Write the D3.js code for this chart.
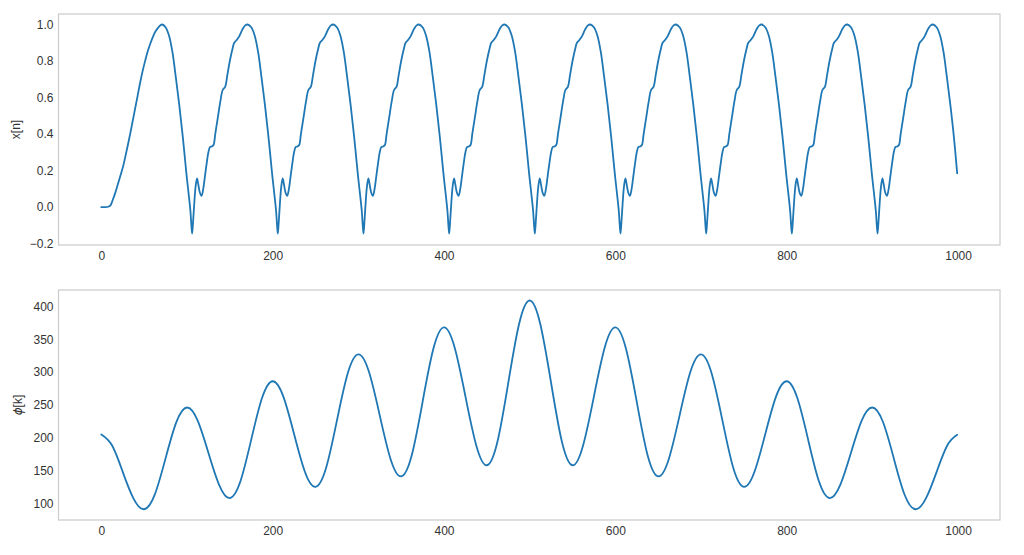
<!DOCTYPE html>
<html><head><meta charset="utf-8">
<script src="https://cdn.jsdelivr.net/npm/d3@7"></script>
<style>
body{margin:0;background:#fff}
svg{display:block}
text{font-family:"Liberation Sans",Arial,sans-serif}
</style>
</head><body>
<svg id="c" width="1024" height="555"></svg>
<script>
// ---------- data: top panel x[n] ----------
const xCycleStarts = [0, 100, 200, 300, 400, 500, 600, 700, 800, 900];
const xFirstOffsets = [0,4,8,10.5,13,16.3,19,22.2,25,28,31,33.9,36.8,39.7,42.6,45.5,48.5,51.4,54.3,57.2,60,63,66,68.5,71,75,79,83,87,91,95,99];
const xCycleOffsets = [0,2,4,5,6,7,8.5,10,11.7,13,15,17,19,21,23,25,27,29,31,33,36,39,41.6,44.7,47,50,53.3,55.2,58,61,65,68,70.8,75,79,83,87,91,95,99];
const xCycleValues = [
  [0,0,0.002,0.008,0.035,0.078,0.12,0.17,0.215,0.275,0.34,0.405,0.475,0.545,0.615,0.685,0.75,0.805,0.855,0.895,0.93,0.96,0.98,0.994,1.0,0.985,0.94,0.85,0.71,0.56,0.39,0.2],
  [0.155,0.07,-0.02,-0.09,-0.145,-0.09,0.02,0.11,0.157,0.13,0.08,0.062,0.1,0.17,0.24,0.3,0.33,0.332,0.34,0.4,0.49,0.58,0.64,0.66,0.72,0.8,0.87,0.9,0.915,0.935,0.975,0.995,1.0,0.985,0.94,0.85,0.71,0.56,0.39,0.2],
  [0.155,0.07,-0.02,-0.09,-0.145,-0.09,0.02,0.11,0.157,0.13,0.08,0.062,0.1,0.17,0.24,0.3,0.33,0.332,0.34,0.4,0.49,0.58,0.64,0.66,0.72,0.8,0.87,0.9,0.915,0.935,0.975,0.995,1.0,0.985,0.94,0.85,0.71,0.56,0.39,0.2],
  [0.155,0.07,-0.02,-0.09,-0.145,-0.09,0.02,0.11,0.157,0.13,0.08,0.062,0.1,0.17,0.24,0.3,0.33,0.332,0.34,0.4,0.49,0.58,0.64,0.66,0.72,0.8,0.87,0.9,0.915,0.935,0.975,0.995,1.0,0.985,0.94,0.85,0.71,0.56,0.39,0.2],
  [0.155,0.07,-0.02,-0.09,-0.145,-0.09,0.02,0.11,0.157,0.13,0.08,0.062,0.1,0.17,0.24,0.3,0.33,0.332,0.34,0.4,0.49,0.58,0.64,0.66,0.72,0.8,0.87,0.9,0.915,0.935,0.975,0.995,1.0,0.985,0.94,0.85,0.71,0.56,0.39,0.2],
  [0.155,0.07,-0.02,-0.09,-0.145,-0.09,0.02,0.11,0.157,0.13,0.08,0.062,0.1,0.17,0.24,0.3,0.33,0.332,0.34,0.4,0.49,0.58,0.64,0.66,0.72,0.8,0.87,0.9,0.915,0.935,0.975,0.995,1.0,0.985,0.94,0.85,0.71,0.56,0.39,0.2],
  [0.155,0.07,-0.02,-0.09,-0.145,-0.09,0.02,0.11,0.157,0.13,0.08,0.062,0.1,0.17,0.24,0.3,0.33,0.332,0.34,0.4,0.49,0.58,0.64,0.66,0.72,0.8,0.87,0.9,0.915,0.935,0.975,0.995,1.0,0.985,0.94,0.85,0.71,0.56,0.39,0.2],
  [0.155,0.07,-0.02,-0.09,-0.145,-0.09,0.02,0.11,0.157,0.13,0.08,0.062,0.1,0.17,0.24,0.3,0.33,0.332,0.34,0.4,0.49,0.58,0.64,0.66,0.72,0.8,0.87,0.9,0.915,0.935,0.975,0.995,1.0,0.985,0.94,0.85,0.71,0.56,0.39,0.2],
  [0.155,0.07,-0.02,-0.09,-0.145,-0.09,0.02,0.11,0.157,0.13,0.08,0.062,0.1,0.17,0.24,0.3,0.33,0.332,0.34,0.4,0.49,0.58,0.64,0.66,0.72,0.8,0.87,0.9,0.915,0.935,0.975,0.995,1.0,0.985,0.94,0.85,0.71,0.56,0.39,0.2],
  [0.155,0.07,-0.02,-0.09,-0.145,-0.09,0.02,0.11,0.157,0.13,0.08,0.062,0.1,0.17,0.24,0.3,0.33,0.332,0.34,0.4,0.49,0.58,0.64,0.66,0.72,0.8,0.87,0.9,0.915,0.935,0.975,0.995,1.0,0.985,0.94,0.85,0.71,0.56,0.39,0.185]
];
const xTicksY = [-0.2, 0.0, 0.2, 0.4, 0.6, 0.8, 1.0];
const xLimY = [-0.2075, 1.0575];

// ---------- data: bottom panel phi[k] ----------
const phiK = [0,12.5,25,37.5,50,62.5,75,87.5,100,112.5,125,137.5,150,162.5,175,187.5,200,212.5,225,237.5,250,262.5,275,287.5,300,312.5,325,337.5,350,362.5,375,387.5,400,412.5,425,437.5,450,462.5,475,487.5,500,512.5,525,537.5,550,562.5,575,587.5,600,612.5,625,637.5,650,662.5,675,687.5,700,712.5,725,737.5,750,762.5,775,787.5,800,812.5,825,837.5,850,862.5,875,887.5,900,912.5,925,937.5,950,962.5,975,987.5,999];
const phiV = [205,188.4,148,107.6,91,113.6,168.5,223.4,246,225.9,177,128.1,108,134,197,260,286,262.5,205.5,148.5,125,154.5,226,297.5,327,300,234,168,141,174,254.5,335,368,337,263,189,158,194.5,283.5,372.5,409,372.5,283.5,194.5,158,189,263,337,368,335,254.5,174,141,168,234,300,327,297.5,226,154.5,125,148.5,205.5,262.5,286,260,197,134,108,128,177,226,246,223.5,168.5,113.5,91,107.5,148,188.5,204.5];
const phiTicksY = [100, 150, 200, 250, 300, 350, 400];
const phiLimY = [74.6, 425];

// ---------- shared x ----------
const xTicks = [0, 200, 400, 600, 800, 1000];
const xLim = [-49.95, 1048.95];

// ---------- build ----------
const topData = [];
xCycleStarts.forEach((s, i) => {
  const offs = i === 0 ? xFirstOffsets : xCycleOffsets;
  offs.forEach((o, j) => topData.push([s + o, xCycleValues[i][j]]));
});
const botData = phiK.map((k, i) => [k, phiV[i]]);

const svg = d3.select("#c");
const color = "#1f77b4";
const textColor = "#333";

function panel(top, bottom, data, yLim, yTicks, yFmt, labelFn, labelX, curve) {
  const left = 58.5, right = 1000;
  const x = d3.scaleLinear().domain(xLim).range([left, right]);
  const y = d3.scaleLinear().domain(yLim).range([bottom, top]);
  const g = svg.append("g");

  g.append("rect").attr("x", left).attr("y", top)
    .attr("width", right - left).attr("height", bottom - top)
    .attr("fill", "#fff").attr("stroke", "#cccccc").attr("stroke-width", 1.25);

  const ax = g.append("g").attr("transform", `translate(0,${bottom})`)
    .call(d3.axisBottom(x).tickValues(xTicks).tickSize(0).tickPadding(6).tickFormat(d3.format("d")));
  const ay = g.append("g").attr("transform", `translate(${left},0)`)
    .call(d3.axisLeft(y).tickValues(yTicks).tickSize(0).tickPadding(5).tickFormat(yFmt));
  [ax, ay].forEach(a => {
    a.select(".domain").remove();
    a.selectAll("text").attr("font-size", 12).attr("fill", textColor)
      .attr("font-family", '"Liberation Sans", Arial, sans-serif');
  });

  g.append("path").datum(data)
    .attr("fill", "none").attr("stroke", color).attr("stroke-width", 1.8)
    .attr("stroke-linejoin", "round").attr("stroke-linecap", "round")
    .attr("d", d3.line().x(d => x(d[0])).y(d => y(d[1])).curve(curve));

  const lab = g.append("text")
    .attr("transform", `translate(${labelX},${(top + bottom) / 2}) rotate(-90)`)
    .attr("text-anchor", "middle").attr("dominant-baseline", "central")
    .attr("font-size", 12).attr("fill", textColor);
  labelFn(lab);
}

panel(14, 245, topData, xLimY, xTicksY, d3.format(".1f"),
  t => t.text("x[n]"), 16, d3.curveCatmullRom.alpha(0.5));
panel(290, 520, botData, phiLimY, phiTicksY, d3.format("d"),
  t => {
    t.append("tspan").attr("font-style", "italic").attr("font-family", '"DejaVu Sans", sans-serif').text("ϕ");
    t.append("tspan").text("[k]");
  }, 17.5, d3.curveNatural);
</script>
</body></html>
